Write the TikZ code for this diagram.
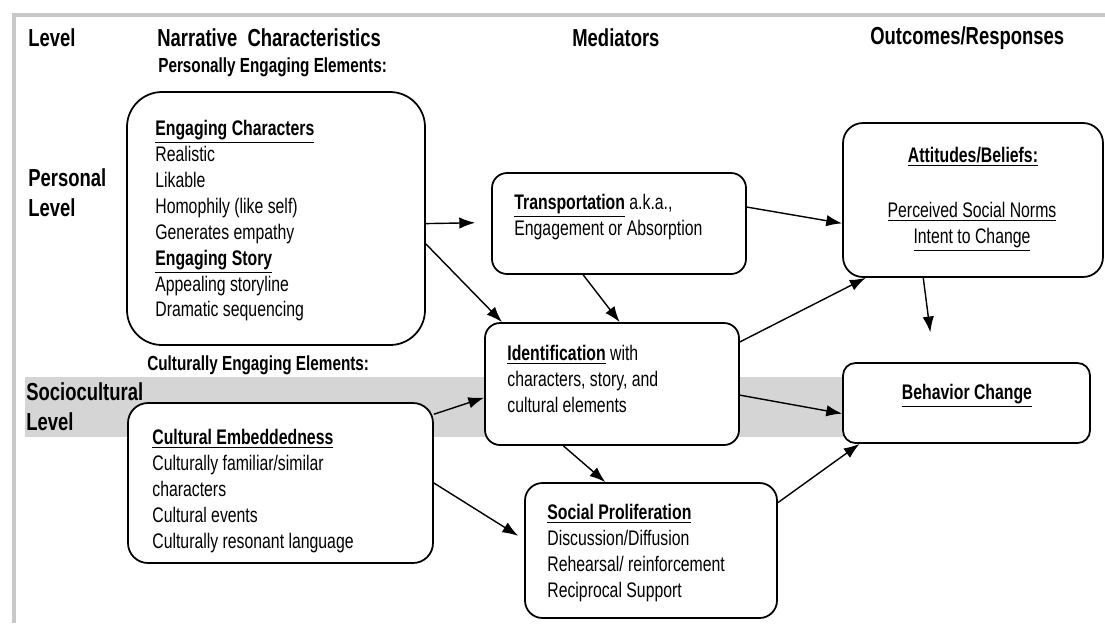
\documentclass[tikz,border=0pt]{standalone}
\usepackage{fontspec}
\setmainfont[FakeStretch=0.75]{Liberation Sans}
\usetikzlibrary{arrows.meta,calc,fit}
\definecolor{bandgray}{RGB}{213,213,213}
\definecolor{framegray}{RGB}{200,200,200}
\begin{document}
\begin{tikzpicture}[x=0.02cm,y=-0.02cm,
  box/.style={draw, line width=1pt, inner sep=0pt, fill=white},
  arr/.style={-{Latex[length=9pt,width=6.5pt]}, line width=0.8pt},
  body/.style={inner sep=0pt, align=left, anchor=north west,
    font=\fontsize{12}{14.74}\selectfont},
  ctr/.style={inner sep=0pt, align=center, anchor=north,
    font=\fontsize{12}{14.74}\selectfont},
  hdr/.style={inner sep=0pt, anchor=west, font=\fontsize{14}{16}\selectfont\bfseries},
  sub/.style={inner sep=0pt, anchor=west, font=\fontsize{11.6}{14}\selectfont\bfseries},
  lvl/.style={inner sep=0pt, align=left, anchor=north west,
    font=\fontsize{14}{17.5}\selectfont\bfseries}]
\useasboundingbox (0,0) rectangle (1105,623);
\fill[white] (0,0) rectangle (1105,623);

% page frame
\draw[framegray, line width=2.6pt] (14,623) -- (14,15) -- (1105,15);

% sociocultural band
\fill[bandgray] (25,377) rectangle (843,437);

% column headers
\node[hdr] (hLevel) at (28,38) {Level};
\node[hdr] (hNarr) at (157,38) {Narrative\ \ Characteristics};
\node[hdr] (hMed) at (572,38) {Mediators};
\node[hdr] (hOut) at (870,38) {Outcomes/Responses};
\node[sub] (hPers) at (158,67) {Personally Engaging Elements:};
\node[sub] (hCult) at (147,365) {Culturally Engaging Elements:};

% level labels
\node[lvl] (lPers) at (28,168) {Personal\\Level};
\node[lvl] (lSoc) at (26,382) {Sociocultural\\Level};

% boxes
\node[box, rounded corners=0.7cm, fit={(127,92)(425,345)}] (b1) {};
\node[box, rounded corners=0.4cm, fit={(128,403)(433,563)}] (b2) {};
\node[box, rounded corners=0.3cm, fit={(492,173)(746,274)}] (tr) {};
\node[box, rounded corners=0.3cm, fit={(485,323)(739,445)}] (id) {};
\node[box, rounded corners=0.35cm, fit={(525,483)(777,618)}] (sp) {};
\node[box, rounded corners=0.4cm, fit={(843,123)(1103,277)}] (at) {};
\node[box, rounded corners=0.25cm, fit={(843,363)(1090,443)}] (bc) {};

% box texts
\node[body] (t1) at (155,120) {\underline{\textbf{Engaging Characters}}\\Realistic\\Likable\\Homophily (like self)\\Generates empathy\\\underline{\textbf{Engaging Story}}\\Appealing storyline\\Dramatic sequencing};
\node[body] (t2) at (152,429) {\underline{\textbf{Cultural Embeddedness}}\\Culturally familiar/similar\\characters\\Cultural events\\Culturally resonant language};
\node[body] (tt) at (514,194) {\underline{\textbf{Transportation}} a.k.a.,\\Engagement or Absorption};
\node[body] (ti) at (507,345) {\underline{\textbf{Identification}} with\\characters, story, and\\cultural elements};
\node[body] (ts) at (547,504) {\underline{\textbf{Social Proliferation}}\\Discussion/Diffusion\\Rehearsal/ reinforcement\\Reciprocal Support};
\node[ctr] (ta) at (973,147) {\underline{\textbf{Attitudes/Beliefs:}}};
\node[ctr] (ta2) at (972,202) {\underline{Perceived Social Norms}\\\underline{Intent to Change}};
\node[ctr] (tb) at (967,384) {\underline{\textbf{Behavior Change}}};

% connectors
\draw[arr, shorten >=0.32cm] ($(b1.north east)!0.52!(b1.south east)$) -- ($(tr.north west)!0.49!(tr.south west)$);
\draw[arr] ($(b1.north east)!0.6!(b1.south east)$) -- ($(id.north west)!0.07!(id.north east)$);
\draw[arr] ($(tr.south west)!0.36!(tr.south east)$) -- ($(id.north west)!0.53!(id.north east)$);
\draw[arr] ($(tr.north east)!0.34!(tr.south east)$) -- ($(at.north west)!0.65!(at.south west)$);
\draw[arr] ($(id.north east)!0.16!(id.south east)$) -- ($(at.south west)!0.09!(at.south east)$);
\draw[arr] ($(id.north east)!0.59!(id.south east)$) -- ($(bc.north west)!0.63!(bc.south west)$);
\draw[arr] ($(id.south west)!0.31!(id.south east)$) -- ($(sp.north west)!0.32!(sp.north east)$);
\draw[arr] ($(b2.north east)!0.075!(b2.south east)$) -- ($(id.north west)!0.61!(id.south west)$);
\draw[arr, shorten >=0.14cm] (b2.east) -- ($(sp.north west)!0.42!(sp.south west)$);
\draw[arr] ($(sp.north east)!0.15!(sp.south east)$) -- ($(bc.south west)!0.07!(bc.south east)$);
\draw[arr, shorten >=0.6cm] ($(at.south west)!0.31!(at.south east)$) -- ($(bc.north west)!0.37!(bc.north east)$);
\end{tikzpicture}
\end{document}
